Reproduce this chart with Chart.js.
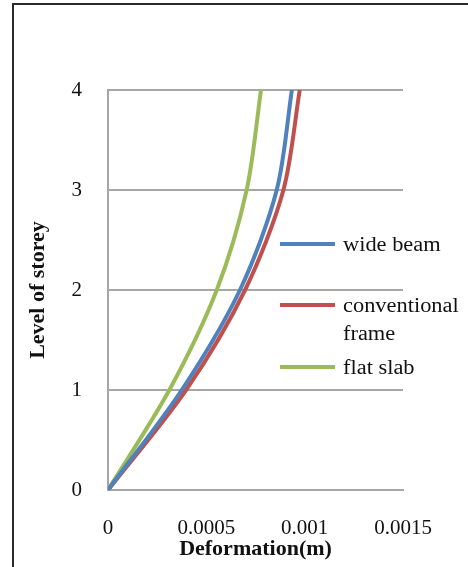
<!DOCTYPE html>
<html>
<head>
<meta charset="utf-8">
<script src="https://cdn.jsdelivr.net/npm/chart.js@4"></script>
<style>
  html, body { margin: 0; padding: 0; background: #fff; }
  #wrap { position: relative; width: 468px; height: 567px; overflow: hidden; }
  #frame { position: absolute; left: 12px; top: 3px; width: 600px; height: 700px;
           border-left: 2px solid #2a2a2a; border-top: 2px solid #2a2a2a; }
  canvas { position: absolute; left: 0; top: 0; }
  .lg-line { position: absolute; left: 280px; width: 55px; height: 4px; }
  .lg-text { position: absolute; left: 343px; font-family: "Liberation Serif", serif; font-size: 20px;
             line-height: 28px; color: #111; transform: scaleX(1.12); transform-origin: left center; white-space: nowrap; }
</style>
</head>
<body>
<div id="wrap">
  <div id="frame"></div>
  <canvas id="c" width="468" height="567"></canvas>
  <div id="legend"></div>
</div>
<script>
// Data
const levels = [0, 1, 2, 3, 4];
const wideBeam = [0, 0.000375, 0.000671, 0.000858, 0.000935];
const conventionalFrame = [0, 0.000397, 0.000697, 0.000892, 0.000975];
const flatSlab = [0, 0.000312, 0.000553, 0.000705, 0.000778];
const seriesNames = ['wide beam', 'conventional frame', 'flat slab'];
const seriesColors = ['#4F81BD', '#C0504D', '#9BBB59'];
const xTickLabels = ['0', '0.0005', '0.001', '0.0015'];
const yTickLabels = ['0', '1', '2', '3', '4'];
const xTitle = 'Deformation(m)';
const yTitle = 'Level of storey';

const seriesValues = [wideBeam, conventionalFrame, flatSlab];
const datasets = seriesValues.map((vals, i) => ({
  label: seriesNames[i],
  data: vals.map((v, k) => ({ x: v, y: levels[k] })),
  borderColor: seriesColors[i],
  backgroundColor: seriesColors[i],
  borderWidth: 4,
  pointRadius: 0,
  showLine: true,
  tension: 0.3,
  fill: false
}));

const tickFont = { family: 'Liberation Serif', size: 21 };
const titleFont = { family: 'Liberation Serif', size: 22, weight: 'bold' };

new Chart(document.getElementById('c'), {
  type: 'scatter',
  data: { datasets },
  options: {
    responsive: false,
    animation: false,
    layout: { padding: { top: 90, right: 65, left: 0, bottom: 0 } },
    plugins: { legend: { display: false }, tooltip: { enabled: false } },
    scales: {
      x: {
        type: 'linear', min: 0, max: 0.0015,
        afterFit: s => { s.height = 77; },
        afterBuildTicks: s => { s.ticks = xTickLabels.map(t => ({ value: parseFloat(t) })); },
        ticks: { font: tickFont, color: '#111', padding: 18, maxRotation: 0,
                 callback: (v, i) => xTickLabels[i] },
        grid: { display: false },
        border: { display: true, color: '#a6a6a6', width: 2 },
        title: { display: true, text: xTitle, font: titleFont, color: '#111', padding: { top: 0, bottom: 4 } }
      },
      y: {
        type: 'linear', min: 0, max: 4,
        afterFit: s => { s.width = 108; },
        afterBuildTicks: s => { s.ticks = yTickLabels.map(t => ({ value: parseFloat(t) })); },
        ticks: { font: tickFont, color: '#111', padding: 26, callback: (v, i) => yTickLabels[i] },
        grid: { color: '#a6a6a6', lineWidth: 2, drawTicks: false },
        border: { display: true, color: '#a6a6a6', width: 2 },
        title: { display: true, text: yTitle, font: titleFont, color: '#111', padding: { top: 25, bottom: 0 } }
      }
    }
  }
});

// HTML legend built from the series
const legendPos = [244, 305, 367];
const legend = document.getElementById('legend');
seriesNames.forEach((name, i) => {
  const line = document.createElement('div');
  line.className = 'lg-line';
  line.style.top = (legendPos[i] - 2) + 'px';
  line.style.background = seriesColors[i];
  legend.appendChild(line);
  const txt = document.createElement('div');
  txt.className = 'lg-text';
  txt.style.top = (legendPos[i] - 14) + 'px';
  if (name === 'conventional frame') {
    txt.innerHTML = 'conventional<br>frame';
  } else {
    txt.textContent = name;
  }
  legend.appendChild(txt);
});
</script>
</body>
</html>
